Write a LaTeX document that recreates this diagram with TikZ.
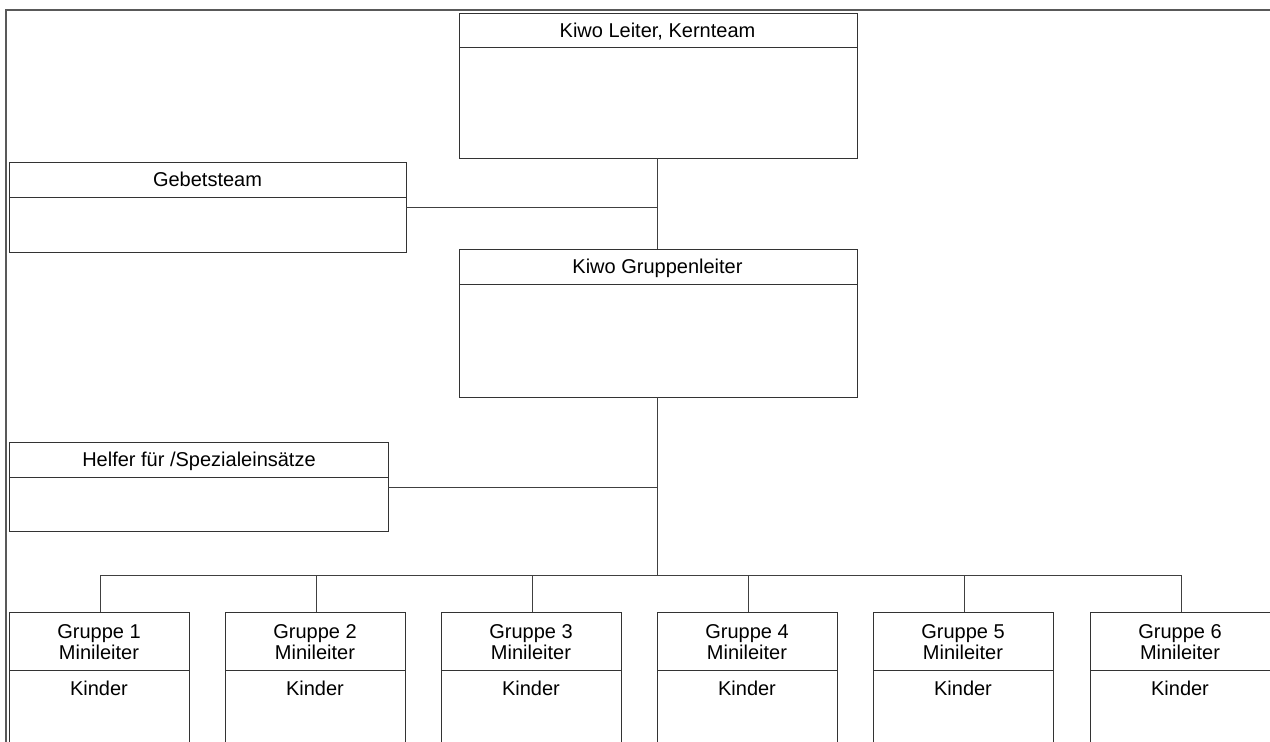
\documentclass[tikz,border=0pt]{standalone}
\usepackage{fontspec}
\setmainfont{Liberation Sans}
\begin{document}
\begin{tikzpicture}[x=1pt,y=-1pt,
  box/.style={draw=black!80, line width=1pt, inner sep=0pt, outer sep=0pt, anchor=north west},
  lbl/.style={font=\fontsize{20}{21}\selectfont, align=center, inner sep=0pt, text=black, anchor=base},
  conn/.style={draw=black!75, line width=1pt},
  frame/.style={draw=black!65, line width=2pt}]
\useasboundingbox (0,0) rectangle (1270,742);
\clip (0,0) rectangle (1270,742);
\draw[frame] (6,760) -- (6,10) -- (1275,10);
% top boxes
\node[box, minimum width=398pt, minimum height=145pt] (kl) at (459,13) {};
\draw[box] (459,47) -- (857,47);
\node[lbl] at (657.5,37) {Kiwo Leiter, Kernteam};
\node[box, minimum width=397pt, minimum height=90pt] (gb) at (9,162) {};
\draw[box] (9,197) -- (406,197);
\node[lbl] at (207.5,186) {Gebetsteam};
\node[box, minimum width=398pt, minimum height=148pt] (kg) at (459,249) {};
\draw[box] (459,284) -- (857,284);
\node[lbl] at (657.5,273) {Kiwo Gruppenleiter};
\node[box, minimum width=379pt, minimum height=89pt] (hf) at (9,442) {};
\draw[box] (9,477) -- (388,477);
\node[lbl] at (199,466) {Helfer für /Spezialeinsätze};
% connectors
\coordinate (j1) at (657,207);
\coordinate (j2) at (657,487);
\coordinate (bus) at (657,575);
\draw[conn] (kl.south -| j1) -- (kg.north -| j1);
\draw[conn] (gb.east |- j1) -- (j1);
\draw[conn] (kg.south -| bus) -- (bus);
\draw[conn] (hf.east |- j2) -- (j2);
% groups
\foreach \i/\x in {1/9,2/225,3/441,4/657,5/873,6/1090}{
  \node[box, minimum width=180pt, minimum height=160pt] (g\i) at (\x,612) {};
  \draw[box] (\x,670) -- ++(180,0);
  \node[lbl] at (\x+90,638) {Gruppe \i};
  \node[lbl] at (\x+90,659) {Minileiter};
  \node[lbl] at (\x+90,695) {Kinder};
}
\draw[conn] (g1.north -| 100,0) -- (100,575) -- (1181,575);
\foreach \i/\x in {2/316,3/532,4/748,5/964,6/1181}{
  \draw[conn] (\x,575) -- (g\i.north -| \x,0);
}
\end{tikzpicture}
\end{document}
